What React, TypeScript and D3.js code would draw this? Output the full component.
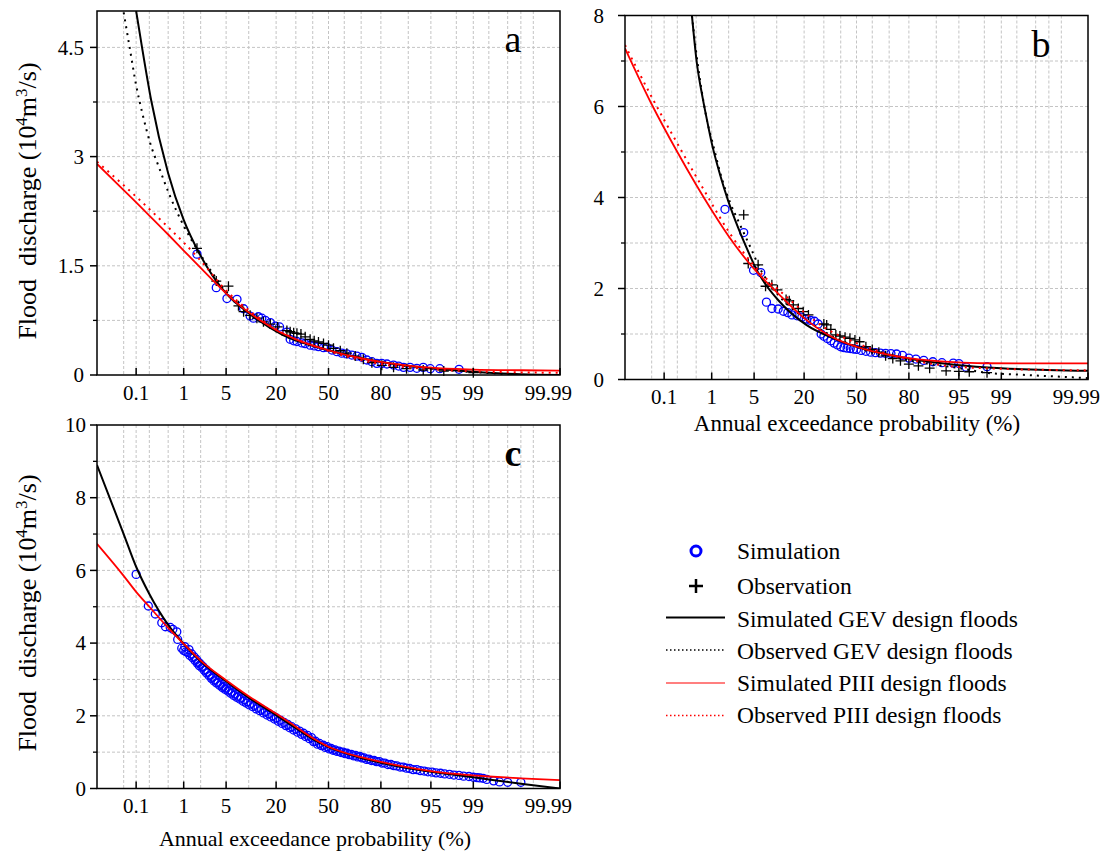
import React from 'react';
import * as d3 from 'd3';

const FONT = '"Liberation Serif", "Times New Roman", Times, serif';

// probability axis (exceedance %, normal probability paper)
const probTicks = [0.1, 1, 5, 20, 50, 80, 95, 99, 99.99];
const probLabels = ['0.1', '1', '5', '20', '50', '80', '95', '99', '99.99'];
const gridProbs = [0.05, 0.1, 0.2, 0.5, 1, 2, 5, 10, 20, 30, 40, 50, 60, 70, 80, 90, 95, 98, 99, 99.5, 99.8, 99.9, 99.95];

type Pt = [number, number];

// panel a
const simA: Pt[] = [[1.73,1.66],[3.57,1.2],[5.14,1.05],[7.08,1.04],[8.63,0.91],[10.4,0.81],[11.4,0.78],[13,0.8],[14.2,0.78],[15.5,0.75],[17.5,0.72],[19.6,0.67],[21.6,0.66],[25.2,0.59],[26.9,0.49],[28.8,0.47],[30.6,0.46],[33.5,0.44],[35.4,0.43],[38.4,0.41],[40.9,0.4],[43.6,0.39],[46.8,0.375],[49,0.38],[52.2,0.343],[55.4,0.32],[58.5,0.3],[61.6,0.29],[64.6,0.274],[67.6,0.26],[70.4,0.243],[73.1,0.206],[75.7,0.183],[78.1,0.16],[80.4,0.16],[82.6,0.151],[85.2,0.137],[87,0.123],[88.6,0.105],[90.5,0.105],[92.2,0.092],[93.6,0.105],[94.9,0.087],[96.3,0.087],[98.2,0.078]];
const obsA: Pt[] = [[1.73,1.74],[3.57,1.29],[5.4,1.22],[7.4,0.95],[8.63,0.87],[10.4,0.82],[12.5,0.78],[14.8,0.73],[17.5,0.7],[20.7,0.66],[25.2,0.61],[26.9,0.594],[28.8,0.58],[30.6,0.572],[32.9,0.562],[35.4,0.525],[38.4,0.49],[40.9,0.47],[43.6,0.453],[46.8,0.434],[50,0.41],[53.2,0.366],[57.5,0.333],[61.6,0.3],[66.6,0.26],[71.2,0.215],[75.7,0.169],[80.4,0.133],[85.2,0.105],[89.5,0.087],[93.6,0.069],[96.8,0.055],[99,0.032]];
const gevSimA: Pt[] = [[0.1,5.0],[0.137,4.5],[0.22,3.77],[0.5,2.77],[1,2.13],[1.9,1.67],[5,1.12],[10,0.85],[23,0.55],[50,0.34],[80,0.18],[95,0.092],[99,0.046],[99.9,0.01],[99.99,0.0]];
const gevObsA: Pt[] = [[0.05,4.98],[0.07,4.5],[0.1,3.98],[0.14,3.59],[0.21,3.18],[0.32,2.86],[0.55,2.45],[1,2.05],[2,1.65],[5,1.15],[10,0.86],[20,0.6],[50,0.34],[80,0.17],[95,0.085],[99,0.04],[99.9,0.005]];
const p3SimA: Pt[] = [[0.01,2.9],[0.05,2.54],[0.1,2.37],[0.2,2.19],[0.5,1.93],[1,1.71],[2,1.47],[3,1.32],[5,1.12],[7,0.99],[10,0.86],[15,0.72],[21,0.6],[30,0.49],[50,0.34],[70,0.23],[80,0.18],[90,0.13],[95,0.1],[99,0.075],[99.9,0.065],[99.99,0.06]];
const p3ObsA: Pt[] = [[0.01,2.93],[0.1,2.45],[0.5,2.03],[1,1.82],[2,1.57],[5,1.16],[10,0.89],[20,0.63],[50,0.33],[80,0.15],[95,0.08],[99,0.05],[99.99,0.03]];

// panel b
const simB: Pt[] = [[1.73,3.74],[3.5,3.23],[4.9,2.4],[6.2,2.35],[7.4,1.7],[8.7,1.56],[10.4,1.55],[12,1.5],[13.5,1.47],[15,1.42],[17,1.4],[19,1.37],[21,1.33],[23,1.3],[25,1.28],[26.9,1.22],[28.5,1.0],[30,0.95],[32,0.9],[34,0.85],[36,0.8],[38,0.76],[40,0.72],[42,0.7],[44,0.69],[46,0.68],[48,0.67],[50,0.66],[53,0.64],[56,0.62],[59,0.6],[62,0.59],[65,0.58],[68,0.575],[71,0.57],[74,0.56],[77,0.53],[80,0.47],[83,0.45],[86,0.42],[89,0.39],[91.5,0.37],[94,0.36],[95,0.35],[96.1,0.27],[98.2,0.28]];
const obsB: Pt[] = [[3.5,3.62],[4.1,2.55],[5.7,2.52],[7.2,2.05],[8.7,2.08],[10.2,1.97],[12.9,1.76],[14,1.73],[15.5,1.64],[17.5,1.56],[19.6,1.49],[22,1.42],[30,1.22],[31.6,1.2],[34,1.1],[37,0.98],[39.5,0.956],[42.7,0.93],[45.8,0.905],[49,0.87],[52,0.83],[56,0.72],[60,0.66],[64,0.6],[68,0.52],[72,0.46],[76,0.41],[80,0.34],[84,0.3],[88,0.25],[92.5,0.19],[95,0.18],[96.5,0.17],[98.2,0.15]];
const gevSimB: Pt[] = [[0.41,8.0],[0.51,7.0],[0.67,6.2],[0.8,5.75],[1,5.2],[1.42,4.5],[1.97,3.92],[2.87,3.33],[4.36,2.72],[5,2.52],[7,2.12],[10,1.78],[21,1.2],[35.5,0.905],[50,0.72],[79,0.466],[94.6,0.32],[99,0.246],[99.99,0.19]];
const gevObsB: Pt[] = [[0.41,8.0],[0.5,7.2],[0.7,6.1],[0.85,5.6],[1,5.28],[1.5,4.45],[2.1,3.9],[3,3.43],[4.5,2.88],[6,2.45],[10,1.9],[20,1.35],[35,0.95],[50,0.72],[80,0.42],[95,0.25],[98.5,0.136],[99.2,0.12],[99.99,0.03]];
const p3SimB: Pt[] = [[0.01,7.28],[0.05,6.05],[0.2,5.0],[1,3.72],[2,3.15],[4,2.6],[5,2.43],[10,1.92],[20,1.35],[35,0.93],[50,0.72],[70,0.54],[80,0.47],[94,0.38],[98,0.357],[99.99,0.355]];
const p3ObsB: Pt[] = [[0.01,7.35],[0.055,6.14],[0.23,5.08],[0.75,4.12],[2.1,3.21],[5,2.5],[13,1.82],[30,1.15],[50,0.8],[70,0.55],[90,0.33],[98.2,0.246],[99.99,0.2]];

// panel c
const simC: Pt[] = [[0.1,5.89],[0.19,5.02],[0.27,4.8],[0.37,4.56],[0.44,4.45],[0.55,4.43],[0.62,4.38],[0.74,4.31],[0.77,4.1],[0.92,3.86],
  [1.0,3.8],[1.05,3.9],[1.1,3.76],[1.2,3.74],[1.25,3.82],[1.3,3.66],[1.4,3.7],[1.45,3.6],[1.55,3.62],[1.6,3.52],[1.7,3.55],[1.75,3.45],[1.85,3.47],[1.9,3.38],[2.0,3.42],[2.1,3.32],[2.2,3.35],[2.3,3.25],[2.45,3.27],[2.5,3.18],[2.65,3.2],[2.75,3.1],[2.9,3.12],[3.0,3.03],[3.15,3.06],[3.3,2.96],[3.45,2.99],[3.6,2.9],[3.8,2.92],[4.0,2.84],[4.2,2.87],[4.4,2.78],[4.6,2.81],[4.8,2.73],[5.05,2.76],[5.3,2.68],[5.55,2.71],[5.8,2.62],[6.1,2.65],[6.4,2.56],[6.7,2.6],[7.0,2.51],[7.35,2.54],[7.7,2.46],[8.1,2.49],[8.5,2.4],[8.9,2.44],[9.3,2.35],[9.75,2.39],[10.2,2.3],[10.7,2.34],[11.2,2.25],[11.7,2.29],[12.3,2.19],[12.9,2.23],[13.5,2.14],[14.1,2.18],[14.8,2.08],[15.5,2.12],[16.2,2.02],[16.9,2.06],[17.7,1.97],[18.5,2.0],[19.3,1.91],[20.1,1.94],[21,1.85],[21.9,1.88],[22.8,1.79],[23.7,1.82],[24.7,1.73],[25.7,1.76],[26.7,1.67],[27.7,1.7],[28.8,1.61],[29.9,1.64],[31,1.55],[32.1,1.58],[33.3,1.49],[34.4,1.52],[35.6,1.43],[36.8,1.46],[38,1.37],[39.2,1.4],[40.5,1.29],[41.7,1.3],[43,1.22],[44.2,1.24],[45.5,1.18],[46.7,1.19],[48,1.13],[49.2,1.15],[50.5,1.09],[51.7,1.1],[53,1.05],[54.2,1.06],[55.5,1.02],[56.7,1.03],[58,0.99],[59.3,1.0],[60.5,0.96],[61.7,0.97],[63,0.93],[64.3,0.94],[65.5,0.9],[66.8,0.91],[68,0.87],[69.3,0.88],[70.5,0.84],[71.7,0.84],[73,0.8],[74.2,0.81],[75.5,0.77],[76.8,0.77],[78,0.74],[79.3,0.74],[80.5,0.7],[81.7,0.7],[83,0.66],[84.2,0.66],[85.3,0.63],[86.4,0.62],[87.5,0.59],[88.5,0.59],[89.5,0.56],[90.4,0.55],[91.3,0.52],[92.2,0.52],[93,0.49],[93.8,0.48],[94.5,0.46],[95.2,0.45],[95.8,0.43],[96.4,0.42],[96.9,0.4],[97.4,0.39],[97.8,0.37],[98.2,0.36],[98.5,0.34],[98.8,0.33],[99,0.31],[99.15,0.3],[99.25,0.29],[99.35,0.28],[99.45,0.25],[99.6,0.21],[99.7,0.18],[99.8,0.17],[99.9,0.17]];
const gevSimC: Pt[] = [[0.01,8.9],[0.05,7.0],[0.1,6.1],[0.2,5.35],[0.5,4.5],[1,3.98],[2,3.5],[5,2.95],[10,2.5],[20,2.02],[30,1.66],[40,1.36],[50,1.14],[60,0.98],[70,0.84],[80,0.71],[90,0.56],[95,0.46],[98,0.37],[99,0.31],[99.5,0.25],[99.9,0.13],[99.99,0.0]];
const p3SimC: Pt[] = [[0.01,6.73],[0.05,5.85],[0.1,5.41],[0.2,5.0],[0.5,4.42],[1,3.98],[2,3.52],[5,2.98],[10,2.54],[20,2.06],[30,1.7],[40,1.39],[50,1.15],[60,0.99],[70,0.86],[80,0.73],[90,0.58],[95,0.48],[98,0.4],[99,0.36],[99.5,0.33],[99.9,0.28],[99.99,0.23]];

// inverse standard normal CDF (Acklam)
function probit(p: number): number {
  const a = [-3.969683028665376e1, 2.209460984245205e2, -2.759285104469687e2, 1.38357751867269e2, -3.066479806614716e1, 2.506628277459239];
  const b = [-5.447609879822406e1, 1.615858368580409e2, -1.556989798598866e2, 6.680131188771972e1, -1.328068155288572e1];
  const c = [-7.784894002430293e-3, -3.223964580411365e-1, -2.400758277161838, -2.549732539343734, 4.374664141464968, 2.938163982698783];
  const d = [7.784695709041462e-3, 3.224671290700398e-1, 2.445134137142996, 3.754408661907416];
  const pl = 0.02425;
  if (p < pl) {
    const q = Math.sqrt(-2 * Math.log(p));
    return (((((c[0] * q + c[1]) * q + c[2]) * q + c[3]) * q + c[4]) * q + c[5]) / ((((d[0] * q + d[1]) * q + d[2]) * q + d[3]) * q + 1);
  }
  if (p <= 1 - pl) {
    const q = p - 0.5, r = q * q;
    return ((((((a[0] * r + a[1]) * r + a[2]) * r + a[3]) * r + a[4]) * r + a[5]) * q) / (((((b[0] * r + b[1]) * r + b[2]) * r + b[3]) * r + b[4]) * r + 1);
  }
  const q = Math.sqrt(-2 * Math.log(1 - p));
  return -(((((c[0] * q + c[1]) * q + c[2]) * q + c[3]) * q + c[4]) * q + c[5]) / ((((d[0] * q + d[1]) * q + d[2]) * q + d[3]) * q + 1);
}

function Panel(props: any) {
  const { id, x0, x1, top, bottom, yMax, yTicks, yStep, labelGap, letter, letterBold, sim, obs, gevSim, gevObs, p3Sim, p3Obs } = props;
  const x = d3.scaleLinear().domain([probit(1e-4), probit(1 - 1e-4)]).range([x0, x1]);
  const px = (p: number) => x(probit(p / 100));
  const y = d3.scaleLinear().domain([0, yMax]).range([bottom, top]);
  const line = d3.line<Pt>().x(d => px(d[0])).y(d => y(d[1])).curve(d3.curveMonotoneX);
  const minor = d3.range(yStep, yMax - 1e-9, yStep);
  const grid = '#c4c4c4';
  return (
    <g>
      <defs>
        <clipPath id={`clip-${id}`}>
          <rect x={x0} y={top} width={x1 - x0} height={bottom - top} />
        </clipPath>
      </defs>
      {gridProbs.map(p => (
        <line key={'gx' + p} x1={px(p)} x2={px(p)} y1={top} y2={bottom} stroke={grid} strokeDasharray="3 2" />
      ))}
      {minor.map(v => (
        <line key={'gy' + v} x1={x0} x2={x1} y1={y(v)} y2={y(v)} stroke={grid} strokeDasharray="3 2" />
      ))}
      {sim && sim.map((d: Pt, i: number) => (
        <circle key={'s' + i} cx={px(d[0])} cy={y(d[1])} r={4} fill="none" stroke="#0000ff" strokeWidth={1.3} />
      ))}
      {obs && obs.map((d: Pt, i: number) => (
        <path key={'o' + i} d={`M${px(d[0]) - 5},${y(d[1])}h10M${px(d[0])},${y(d[1]) - 5}v10`} stroke="#000" strokeWidth={1.3} />
      ))}
      <g clipPath={`url(#clip-${id})`} fill="none">
        {gevObs && <path d={line(gevObs) || ''} stroke="#000" strokeWidth={2} strokeDasharray="2 5" />}
        <path d={line(gevSim) || ''} stroke="#000" strokeWidth={2} />
        {p3Obs && <path d={line(p3Obs) || ''} stroke="#ff0000" strokeWidth={2} strokeDasharray="2 5" />}
        <path d={line(p3Sim) || ''} stroke="#ff0000" strokeWidth={1.8} />
      </g>
      <rect x={x0} y={top} width={x1 - x0} height={bottom - top} fill="none" stroke="#000" strokeWidth={1.5} />
      {minor.filter(v => !yTicks.includes(v)).map(v => (
        <line key={'my' + v} x1={x0 - 4} x2={x0} y1={y(v)} y2={y(v)} stroke="#000" strokeWidth={1.3} />
      ))}
      {yTicks.map((v: number) => (
        <g key={'ty' + v}>
          <line x1={x0 - 7} x2={x0} y1={y(v)} y2={y(v)} stroke="#000" strokeWidth={1.5} />
          <text x={x0 - labelGap} y={y(v)} dy="0.35em" textAnchor="end" fontSize={21}>{String(v)}</text>
        </g>
      ))}
      {probTicks.map((p, i) => (
        <g key={'tx' + p}>
          <line x1={px(p)} x2={px(p)} y1={bottom} y2={bottom - 7} stroke="#000" strokeWidth={1.5} />
          <text x={i === probTicks.length - 1 ? px(p) + 12 : px(p)} y={bottom + 24.5} textAnchor={i === probTicks.length - 1 ? 'end' : 'middle'} fontSize={21}>
            {probLabels[i]}
          </text>
        </g>
      ))}
      <text x={x1 - 47} y={top + 41} textAnchor="middle" fontSize={38} fontWeight={letterBold ? 'bold' : 'normal'}>{letter}</text>
    </g>
  );
}

function YTitle({ cx, cy }: { cx: number; cy: number }) {
  return (
    <text transform={`translate(${cx},${cy}) rotate(-90)`} textAnchor="middle" fontSize={26} style={{ whiteSpace: 'pre' }}>
      {'Flood  discharge (10'}<tspan dy={-9} fontSize={17}>4</tspan><tspan dy={9}>m</tspan><tspan dy={-9} fontSize={17}>3</tspan><tspan dy={9}>/s)</tspan>
    </text>
  );
}

function Legend() {
  const lx = 737;
  const rows = [551, 586, 617.5, 650, 683, 715.5];
  return (
    <g fontSize={23.5}>
      <circle cx={696} cy={rows[0]} r={5} fill="none" stroke="#0000ff" strokeWidth={3} />
      <text x={lx} y={rows[0] + 8}>Simulation</text>
      <path d={`M689,${rows[1]}h14M696,${rows[1] - 7}v14`} stroke="#000" strokeWidth={2.5} />
      <text x={lx} y={rows[1] + 8}>Observation</text>
      <line x1={666} x2={725} y1={rows[2]} y2={rows[2]} stroke="#000" strokeWidth={2} />
      <text x={lx} y={rows[2] + 9}>Simulated GEV design floods</text>
      <line x1={666} x2={725} y1={rows[3]} y2={rows[3]} stroke="#000" strokeWidth={1.5} strokeDasharray="1.5 2.5" />
      <text x={lx} y={rows[3] + 8.5}>Observed GEV design floods</text>
      <line x1={666} x2={725} y1={rows[4]} y2={rows[4]} stroke="#ff0000" strokeWidth={1.2} />
      <text x={lx} y={rows[4] + 8}>Simulated PIII design floods</text>
      <line x1={666} x2={725} y1={rows[5]} y2={rows[5]} stroke="#ff0000" strokeWidth={1.5} strokeDasharray="1.5 2.5" />
      <text x={lx} y={rows[5] + 7.5}>Observed PIII design floods</text>
    </g>
  );
}

export default function App() {
  return (
    <svg width={1103} height={853} fontFamily={FONT} style={{ position: 'absolute', left: 0, top: 0, background: '#fff' }}>
      <rect width={1103} height={853} fill="#fff" />
      <Panel id="a" x0={97} x1={560} top={11} bottom={375} yMax={5} yTicks={[0, 1.5, 3, 4.5]} yStep={0.75} labelGap={13}
        letter="a" sim={simA} obs={obsA} gevSim={gevSimA} gevObs={gevObsA} p3Sim={p3SimA} p3Obs={p3ObsA} />
      <Panel id="b" x0={625} x1={1088} top={15.5} bottom={379.5} yMax={8} yTicks={[0, 2, 4, 6, 8]} yStep={1} labelGap={21}
        letter="b" sim={simB} obs={obsB} gevSim={gevSimB} gevObs={gevObsB} p3Sim={p3SimB} p3Obs={p3ObsB} />
      <Panel id="c" x0={97} x1={560} top={425} bottom={788.5} yMax={10} yTicks={[0, 2, 4, 6, 8, 10]} yStep={1} labelGap={11}
        letter="c" letterBold sim={simC} gevSim={gevSimC} p3Sim={p3SimC} />
      <YTitle cx={36} cy={201} />
      <YTitle cx={36} cy={613} />
      <text x={857} y={431} textAnchor="middle" fontSize={23}>Annual exceedance probability (%)</text>
      <text x={315} y={846} textAnchor="middle" fontSize={22}>Annual exceedance probability (%)</text>
      <Legend />
    </svg>
  );
}
